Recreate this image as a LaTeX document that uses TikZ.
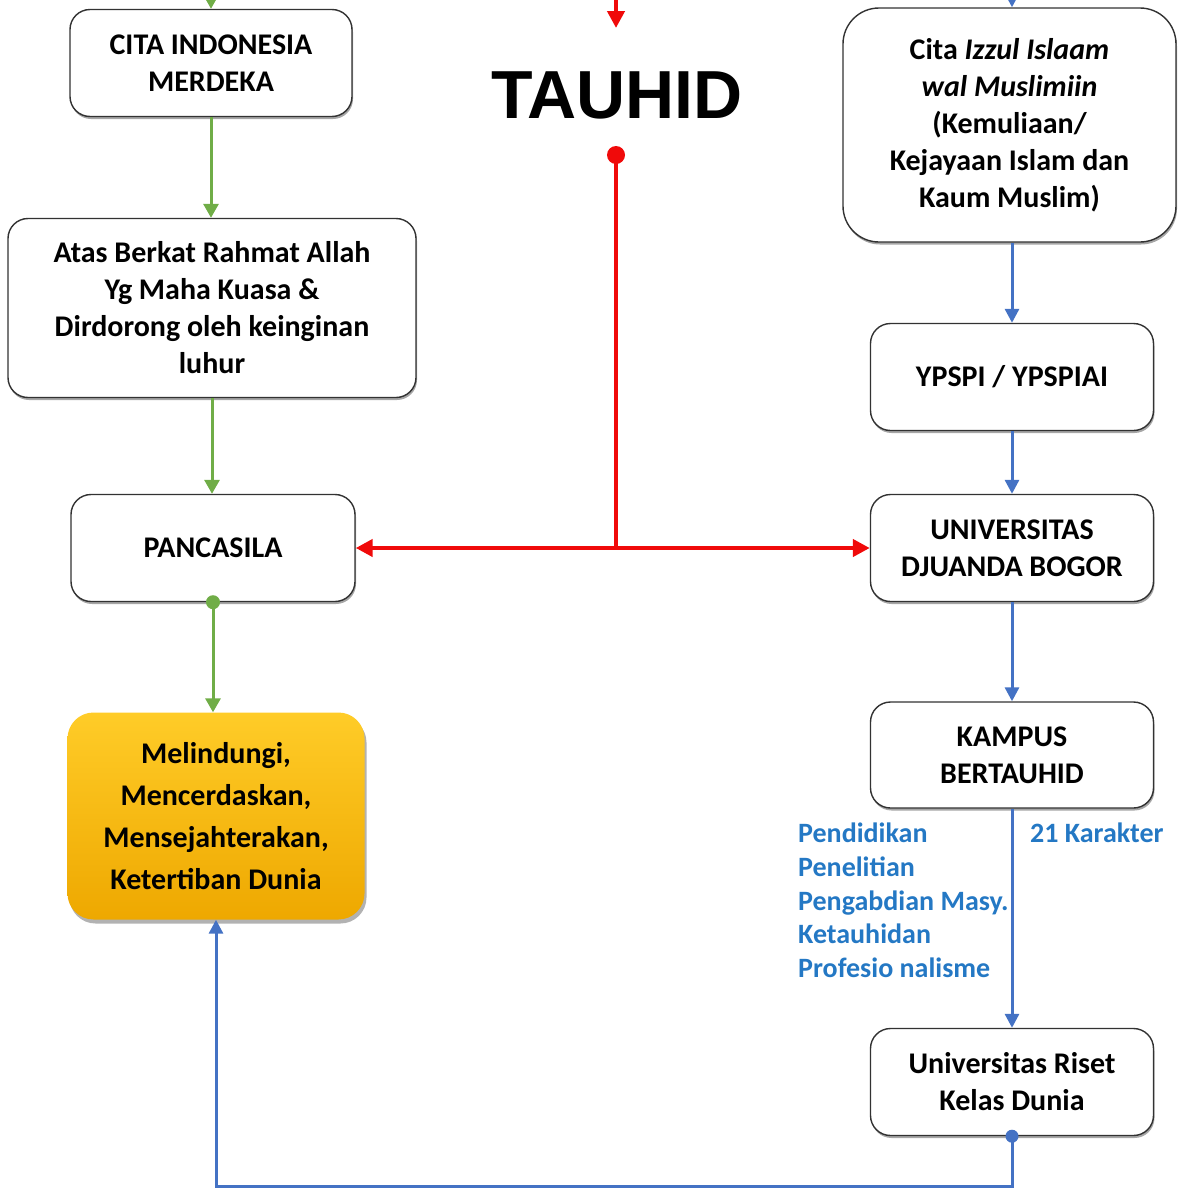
\documentclass[tikz,border=0pt]{standalone}
\usepackage{fontspec}
\setmainfont{Carlito}
\newfontfamily\headfont{Liberation Sans}
\usetikzlibrary{arrows.meta,shadows,calc}
\definecolor{gline}{RGB}{112,173,71}
\definecolor{rline}{RGB}{240,10,10}
\definecolor{bline}{RGB}{68,114,196}
\definecolor{lbl}{RGB}{36,120,196}
\definecolor{boxdraw}{RGB}{50,50,50}
\definecolor{goldtop}{RGB}{255,204,40}
\definecolor{goldbot}{RGB}{238,168,0}
\begin{document}
\begin{tikzpicture}[x=1pt,y=-1pt,
  box/.style={draw=boxdraw,line width=1.4pt,fill=white,rounded corners=20pt,align=center,
    font=\fontsize{30}{37}\selectfont\bfseries,inner sep=0pt,
    drop shadow={shadow xshift=1pt,shadow yshift=-2.5pt,opacity=0.35,fill=black}},
  goldbox/.style={rounded corners=26pt,align=center,top color=goldtop,bottom color=goldbot,
    font=\fontsize{30}{42}\selectfont\bfseries,inner sep=0pt,
    drop shadow={shadow xshift=2pt,shadow yshift=-4pt,opacity=0.3,fill=black}},
  garrow/.style={draw=gline,line width=3pt,-{Triangle[width=15pt,length=14pt]}},
  barrow/.style={draw=bline,line width=3pt,-{Triangle[width=14pt,length=14pt]}},
  rarrow/.style={draw=rline,line width=4.2pt,-{Triangle[width=17pt,length=17pt]}},
  lab/.style={text=lbl,font=\fontsize{28}{33.6}\selectfont\bfseries,inner sep=0pt,align=left}
]
\useasboundingbox (0,0) rectangle (1178,1189);

% left column
\node[box,minimum width=282pt,minimum height=107pt] (cim) at (211,63) {CITA INDONESIA\\MERDEKA};
\node[box,minimum width=408pt,minimum height=179pt] (atas) at (212,308) {Atas Berkat Rahmat Allah\\Yg Maha Kuasa \&\\Dirdorong oleh keinginan\\luhur};
\node[box,minimum width=284pt,minimum height=107pt] (pan) at (213,548) {PANCASILA};
\node[goldbox,minimum width=297pt,minimum height=207pt] (gold) at (216,816) {Melindungi,\\Mencerdaskan,\\Mensejahterakan,\\Ketertiban Dunia};

% right column
\node[box,rounded corners=36pt,minimum width=333pt,minimum height=234pt] (cita) at (1009.5,125) {Cita \textit{Izzul Islaam}\\\textit{wal Muslimiin}\\(Kemuliaan/\\Kejayaan Islam dan\\Kaum Muslim)};
\node[box,minimum width=283pt,minimum height=107pt] (yps) at (1012,377) {YPSPI / YPSPIAI};
\node[box,minimum width=283pt,minimum height=107pt] (ud) at (1012,548) {UNIVERSITAS\\DJUANDA BOGOR};
\node[box,minimum width=283pt,minimum height=106pt] (kam) at (1012,755) {KAMPUS\\BERTAUHID};
\node[box,minimum width=283pt,minimum height=107pt] (ris) at (1012,1082) {Universitas Riset\\Kelas Dunia};

% centre
\node[font=\headfont\fontsize{68}{68}\selectfont\bfseries,inner sep=0pt] (tau) at (617,95) {TAUHID};

% labels
\node[lab,anchor=north west] (list) at (798,823) {Pendidikan\\Penelitian\\Pengabdian Masy.\\Ketauhidan\\Profesio nalisme};
\node[lab,anchor=north west] (kar) at (1030,823) {21 Karakter};

% coordinates
\coordinate (gtop) at (211,0);
\coordinate (btop) at (1012,0);
\coordinate (rtop) at (616,0);
\coordinate (rtip) at (616,28);
\coordinate (rdot) at (616,155);
\coordinate (rj) at (616,548);

% green
\draw[garrow] (gtop) -- (gtop |- cim.north);
\draw[garrow] (cim.south) -- (cim.south |- atas.north);
\draw[garrow] (atas.south) -- (atas.south |- pan.north);
\draw[garrow] (pan.south) -- (pan.south |- gold.north);
\fill[gline] (pan.south) circle (7pt);

% red
\draw[rarrow] (rtop) -- (rtip);
\draw[draw=rline,line width=4.2pt] (rdot) -- (rj);
\fill[rline] (rdot) circle (9pt);
\draw[rarrow] (rj) -- (pan.east);
\draw[rarrow] (rj) -- (ud.west);

% blue
\draw[barrow] (btop) -- (btop |- cita.north);
\draw[barrow] (btop |- cita.south) -- (yps.north);
\draw[barrow] (yps.south) -- (ud.north);
\draw[barrow] (ud.south) -- (kam.north);
\draw[barrow] (kam.south) -- (ris.north);
\draw[barrow,rounded corners=0pt] (ris.south) -- ++(0,50) -| (gold.south);
\fill[bline] (ris.south) circle (6.5pt);
\end{tikzpicture}
\end{document}
